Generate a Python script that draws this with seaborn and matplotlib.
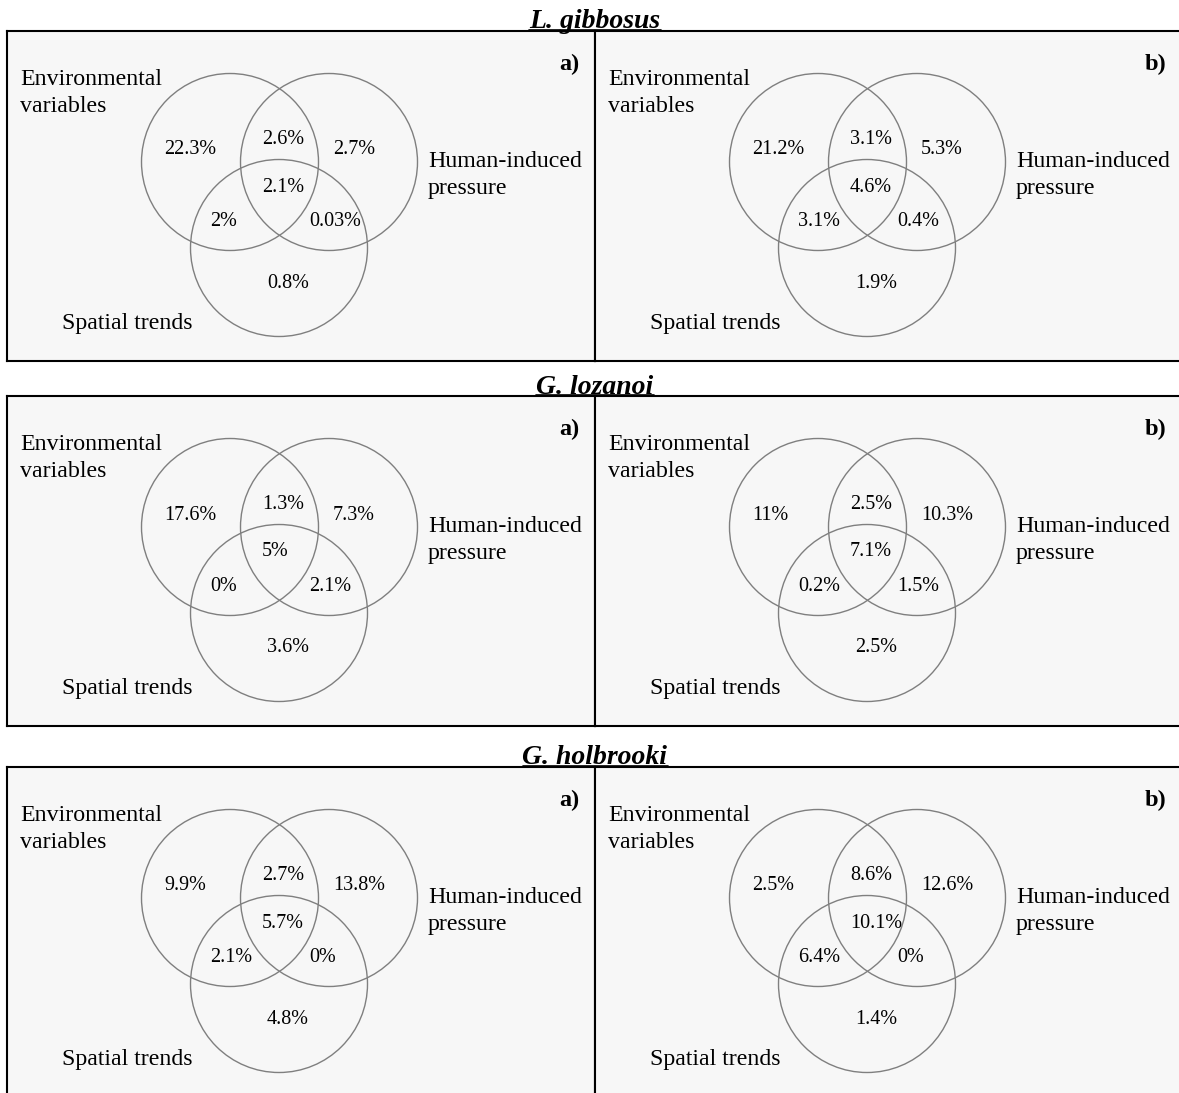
import matplotlib
matplotlib.use("Agg")
import matplotlib.pyplot as plt
from matplotlib.patches import Circle
from matplotlib.lines import Line2D
import pandas as pd
import seaborn as sns

# ---- data: variance partitioning (% explained) per species and model ----
species = ["L. gibbosus", "G. lozanoi", "G. holbrooki"]
panel_tags = ["a)", "b)"]
set_names = ["Environmental\nvariables", "Human-induced\npressure", "Spatial trends"]
regions = ["env", "env_hum", "hum", "env_hum_spa", "env_spa", "hum_spa", "spa"]

gibbosus_a = [22.3, 2.6, 2.7, 2.1, 2, 0.03, 0.8]
gibbosus_b = [21.2, 3.1, 5.3, 4.6, 3.1, 0.4, 1.9]
lozanoi_a = [17.6, 1.3, 7.3, 5, 0, 2.1, 3.6]
lozanoi_b = [11, 2.5, 10.3, 7.1, 0.2, 1.5, 2.5]
holbrooki_a = [9.9, 2.7, 13.8, 5.7, 2.1, 0, 4.8]
holbrooki_b = [2.5, 8.6, 12.6, 10.1, 6.4, 0, 1.4]

values = {
    ("L. gibbosus", "a)"): gibbosus_a,
    ("L. gibbosus", "b)"): gibbosus_b,
    ("G. lozanoi", "a)"): lozanoi_a,
    ("G. lozanoi", "b)"): lozanoi_b,
    ("G. holbrooki", "a)"): holbrooki_a,
    ("G. holbrooki", "b)"): holbrooki_b,
}
df = pd.DataFrame(
    [(sp, tag, reg, v)
     for (sp, tag), vals in values.items()
     for reg, v in zip(regions, vals)],
    columns=["species", "panel", "region", "value"],
)

# ---- style ----
sns.set_theme(style="white")
plt.rcParams["font.family"] = ["Liberation Serif", "DejaVu Serif"]

W, H = 1179, 1093
fig = plt.figure(figsize=(W / 100, H / 100), dpi=100, facecolor="white")

row_tops = [31, 396, 767]
panel_h = 330
panel_cols = [(7, 588), (595, 587)]

# circle layout inside a panel (pixel units, y downwards)
circle_centers = [(223, 131), (322, 131), (272, 217)]
radius = 88.5
# left edge / baseline of each region label
region_pos = {
    "env": (157, 123.5),
    "env_hum": (255, 113),
    "hum": (326, 123.5),
    "env_hum_spa": (255, 160.5),
    "env_spa": (203, 195),
    "hum_spa": (302, 195),
    "spa": (260, 256.5),
}
# left edge / first baseline of each set name
name_pos = [(13, 53.6), (421, 136), (55, 298)]
line_gap = 27.4

titles = []
for r, sp in enumerate(species):
    top = row_tops[r]
    for c, tag in enumerate(panel_tags):
        x0, w = panel_cols[c]
        ax = fig.add_axes([x0 / W, 1 - (top + panel_h) / H, w / W, panel_h / H])
        ax.set_xlim(0, w)
        ax.set_ylim(panel_h, 0)
        ax.set_facecolor("#f7f7f7")
        ax.set_xticks([])
        ax.set_yticks([])
        for s in ax.spines.values():
            s.set_visible(True)
            s.set_color("black")
            s.set_linewidth(1.5)

        for (cx, cy) in circle_centers:
            ax.add_patch(Circle((cx, cy), radius, fill=False,
                                edgecolor="#7f7f7f", linewidth=1.0, zorder=2))

        sub = df[(df["species"] == sp) & (df["panel"] == tag)]
        for reg, v in zip(sub["region"], sub["value"]):
            lx, ly = region_pos[reg]
            ax.text(lx, ly, f"{v:g}%", fontsize=14.5, ha="left",
                    va="baseline", color="black", zorder=3)

        for name, (nx, ny) in zip(set_names, name_pos):
            for i, line in enumerate(name.split("\n")):
                ax.text(nx, ny + i * line_gap, line, fontsize=17.2,
                        ha="left", va="baseline", color="black", zorder=3)

        ax.text(w - 16, 39, tag, fontsize=17.5, fontweight="bold",
                ha="right", va="baseline", color="black", zorder=3)

    base = top - 2.5
    t = fig.text(595 / W, 1 - base / H, sp, fontsize=20, fontweight="bold",
                 fontstyle="italic", ha="center", va="baseline", color="black")
    titles.append((t, base))

# underline the species titles
fig.canvas.draw()
for t, base in titles:
    bb = t.get_window_extent()
    yl = 1 - (base + 1.5) / H
    fig.add_artist(Line2D([bb.x0 / W, bb.x1 / W], [yl, yl],
                          transform=fig.transFigure, color="black",
                          linewidth=1.2))

fig.savefig("out.png", dpi=100, facecolor="white")
